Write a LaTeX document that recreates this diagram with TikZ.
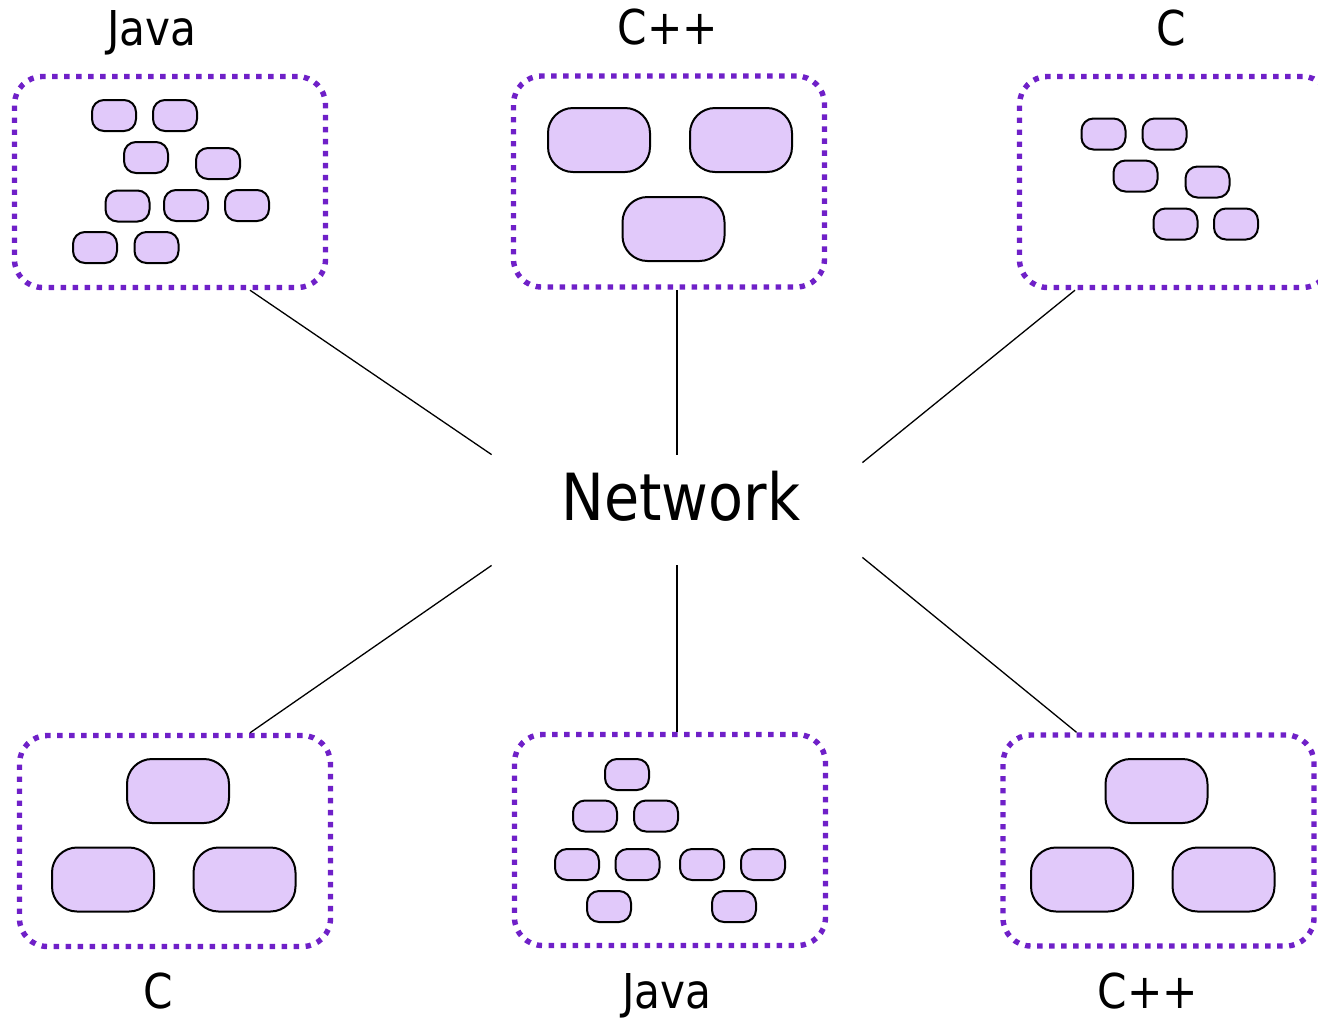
\documentclass[tikz,border=0pt]{standalone}
\usepackage{fontspec}
\setmainfont{DejaVu Sans}[FakeStretch=0.88]
\definecolor{grpline}{RGB}{111,32,200}
\definecolor{procfill}{RGB}{225,201,250}
\tikzset{
  group/.style={draw=grpline, line width=2.7pt, dash pattern=on 2.7pt off 3.3pt,
    rounded corners=14pt, minimum width=155.5pt, minimum height=105.5pt, inner sep=0pt},
  small/.style={draw=black, fill=procfill, line width=1pt, rounded corners=6pt,
    minimum width=22pt, minimum height=15.5pt, inner sep=0pt},
  large/.style={draw=black, fill=procfill, line width=1pt, rounded corners=12.5pt,
    minimum width=51pt, minimum height=32pt, inner sep=0pt},
  lang/.style={anchor=base, font=\fontsize{24pt}{28pt}\selectfont, inner sep=0pt},
  link/.style={draw=black, line width=0.65pt},
}
\begin{document}
\begin{tikzpicture}[x=0.5pt, y=-0.5pt]
\useasboundingbox (0,0) rectangle (1318,1019);
\clip (0,0) rectangle (1318,1019);

% central label; its box sets where the links stop
\node[anchor=base, font=\fontsize{32.5pt}{38pt}\selectfont, inner xsep=0pt, inner ysep=0pt,
      minimum width=185pt, text height=32.5pt, text depth=22.5pt] (net) at (677,520)
      {\hspace*{4pt}Network};

% process groups
\node[group] (tl) at (170,182) {};
\node[group] (tm) at (669,181.5) {};
\node[group] (tr) at (1175,182) {};
\node[group] (bl) at (175,841) {};
\node[group] (bm) at (670,840) {};
\node[group] (br) at (1158.5,840.5) {};

% group titles
\node[lang] (ltl) at (152,45) {Java};
\node[lang] (ltm) at (668,44) {C++};
\node[lang] (ltr) at (1171,45) {C};
\node[lang] (lbl) at (158,1008) {C};
\node[lang] (lbm) at (667,1008) {Java};
\node[lang] (lbr) at (1148,1008) {C++};

% Java, top
\node[small] (j1) at (114,115.5) {};
\node[small] (j2) at (175,115.5) {};
\node[small] (j3) at (146,157.5) {};
\node[small] (j4) at (218,163.5) {};
\node[small] (j5) at (127.5,206) {};
\node[small] (j6) at (186,205.5) {};
\node[small] (j7) at (247,205.5) {};
\node[small] (j8) at (95,247.5) {};
\node[small] (j9) at (156.5,247.5) {};

% C++, top
\node[large] (p1) at (599,140) {};
\node[large] (p2) at (741,140) {};
\node[large] (p3) at (673.5,229) {};

% C, top
\node[small] (c1) at (1103.5,134) {};
\node[small] (c2) at (1164.5,134) {};
\node[small] (c3) at (1135.5,176) {};
\node[small] (c4) at (1207.5,182) {};
\node[small] (c5) at (1175.5,224) {};
\node[small] (c6) at (1236,224) {};

% C, bottom
\node[large] (d1) at (178,791) {};
\node[large] (d2) at (103,879.5) {};
\node[large] (d3) at (244.5,879.5) {};

% Java, bottom
\node[small] (k1) at (627,774.5) {};
\node[small] (k2) at (595,816) {};
\node[small] (k3) at (656,816) {};
\node[small] (k4) at (577,864.5) {};
\node[small] (k5) at (637.5,864.5) {};
\node[small] (k6) at (702,864.5) {};
\node[small] (k7) at (763,864.5) {};
\node[small] (k8) at (609,906.5) {};
\node[small] (k9) at (734,906.5) {};

% C++, bottom
\node[large] (q1) at (1156.5,791) {};
\node[large] (q2) at (1082,879.5) {};
\node[large] (q3) at (1223.5,879.5) {};

% links to the network
\draw[link] ([xshift=40pt]tl.south) -- (net.north west);
\draw[link] (net.north) -- (net.north |- tm.south);
\draw[link] ([xshift=-50pt]tr.south) -- ([yshift=-4pt]net.north east);
\draw[link] ([xshift=37.5pt]bl.north) -- (net.south west);
\draw[link] (net.south) -- (net.south |- bm.north);
\draw[link] ([xshift=-41pt]br.north) -- ([yshift=4pt]net.south east);
\end{tikzpicture}
\end{document}
